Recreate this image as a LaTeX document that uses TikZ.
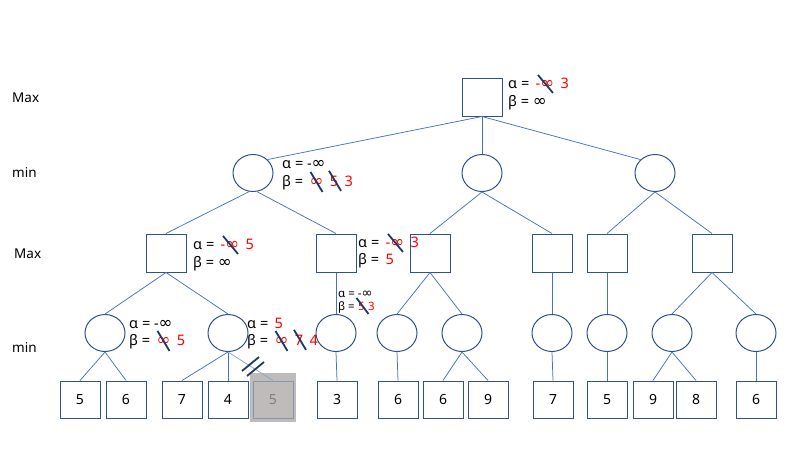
\documentclass[tikz,border=0pt]{standalone}
\usepackage{fontspec}
\setmainfont{Noto Sans}
\newfontfamily\dvf{DejaVu Sans}[Scale=1.15]
\usetikzlibrary{calc,shapes.geometric}
\definecolor{shapeblue}{HTML}{2F528F}
\definecolor{lineblue}{HTML}{4472C4}
\definecolor{strikec}{HTML}{1F3864}
\definecolor{greyfill}{HTML}{BFBBBB}
\definecolor{greyline}{HTML}{8497B0}
\definecolor{greytext}{HTML}{7F7F7F}
\definecolor{fadeline}{HTML}{8EA5D0}
\newcommand{\inft}{{\dvf ∞}}
\begin{document}
\begin{tikzpicture}[x=1pt,y=-1pt,
  sq/.style={draw=shapeblue, line width=1pt, minimum width=40pt, minimum height=38pt, inner sep=0pt},
  ci/.style={ellipse, draw=shapeblue, line width=1pt, minimum width=40pt, minimum height=37pt, inner sep=0pt},
  leaf/.style={draw=shapeblue, line width=1pt, minimum width=40pt, minimum height=37pt, inner sep=0pt, font=\fontsize{14}{16}\selectfont},
  conn/.style={draw=lineblue, line width=0.75pt},
  lbl/.style={inner sep=0pt, anchor=base west, font=\fontsize{14.5}{17}\selectfont},
  lsm/.style={inner sep=0pt, anchor=base west, font=\fontsize{11.5}{13}\selectfont},
  rd/.style={text=red},
  strike/.style={draw=strikec, line width=1.8pt},
  lev/.style={inner sep=0pt, anchor=west, font=\fontsize{13.5}{16}\selectfont}]
\useasboundingbox (0,0) rectangle (800,450);

% level labels
\node[lev] (L0) at (12,98) {Max};
\node[lev] (L1) at (12,173) {min};
\node[lev] (L2) at (14,254) {Max};
\node[lev] (L3) at (12,348) {min};

% nodes
\node[sq] (r) at (482,97) {};
\node[ci] (c1) at (253,173) {};
\node[ci] (c2) at (482,173) {};
\node[ci] (c3) at (655,173) {};
\node[sq] (s1) at (166,253) {};
\node[sq] (s2) at (336,253) {};
\node[sq] (s3) at (430,253) {};
\node[sq] (s4) at (552,253) {};
\node[sq] (s5) at (607,253) {};
\node[sq] (s6) at (712,253) {};
\node[ci] (d1) at (105,333) {};
\node[ci] (d2) at (228,333) {};
\node[ci] (d3) at (336,333) {};
\node[ci] (d4) at (397,333) {};
\node[ci] (d5) at (462,333) {};
\node[ci] (d6) at (552,333) {};
\node[ci] (d7) at (607,333) {};
\node[ci] (d8) at (672,333) {};
\node[ci] (d9) at (756,333) {};

% leaves
\node[leaf] (l1) at (80,399.5) {5};
\node[leaf] (l2) at (126,399.5) {6};
\node[leaf] (l3) at (182,399.5) {7};
\node[leaf] (l4) at (228,399.5) {4};
\node[fill=greyfill, minimum width=46pt, minimum height=49pt, inner sep=0pt] (gbox) at (273,397.5) {};
\node[leaf, draw=greyline, text=greytext] (l5) at (273,399.5) {5};
\node[leaf] (l6) at (337,399.5) {3};
\node[leaf] (l7) at (398,399.5) {6};
\node[leaf] (l8) at (443,399.5) {6};
\node[leaf] (l9) at (488,399.5) {9};
\node[leaf] (l10) at (553,399.5) {7};
\node[leaf] (l11) at (607,399.5) {5};
\node[leaf] (l12) at (653,399.5) {9};
\node[leaf] (l13) at (696,399.5) {8};
\node[leaf] (l14) at (756,399.5) {6};

% connectors
\draw[conn] (r.south) -- (c1.north east);
\draw[conn] (r.south) -- (c2.north);
\draw[conn] (r.south) -- (c3.north west);
\draw[conn] (c1.258) -- (s1.north);
\draw[conn] (c1.282) -- (s2.north);
\draw[conn] (c2.south) -- (s3.north);
\draw[conn] (c2.south) -- (s4.north);
\draw[conn] (c3.south) -- (s5.north);
\draw[conn] (c3.south) -- (s6.north);
\draw[conn] (s1.south) -- (d1.north);
\draw[conn] (s1.south) -- (d2.north);
\draw[conn] (s2.south) -- (d3.north);
\draw[conn] (s3.south) -- (d4.north);
\draw[conn] (s3.south) -- (d5.north);
\draw[conn] (s4.south) -- (d6.north);
\draw[conn] (s5.south) -- (d7.north);
\draw[conn] (s6.south) -- (d8.north);
\draw[conn] (s6.south) -- (d9.north);
\draw[conn] (d1.south) -- (l1.north);
\draw[conn] (d1.south) -- (l2.north);
\draw[conn] (d2.south) -- (l3.north);
\draw[conn] (d2.south) -- (l4.north);
\draw[conn, draw=fadeline] (d2.south) -- (l5.north);
\draw[conn] (d3.south) -- (l6.north);
\draw[conn] (d4.south) -- (l7.north);
\draw[conn] (d5.south) -- (l8.north);
\draw[conn] (d5.south) -- (l9.north);
\draw[conn] (d6.south) -- (l10.north);
\draw[conn] (d7.south) -- (l11.north);
\draw[conn] (d8.south) -- (l12.north);
\draw[conn] (d8.south) -- (l13.north);
\draw[conn] (d9.south) -- (l14.north);

% cut marker
\coordinate (k1a) at (242,371);
\coordinate (k1b) at (259,357);
\coordinate (k2a) at (247,376);
\coordinate (k2b) at (264,362);
\draw[strike] (k1a) -- (k1b);
\draw[strike] (k2a) -- (k2b);

% root labels
\node[lbl] (ra1) at (508,88) {α =};
\node[lbl,rd] (ra2) at ($(ra1.base east)+(6,0)$) {-\inft};
\node[lbl,rd] (ra3) at ($(ra2.base east)+(6,0)$) {3};
\draw[strike] ($(ra2.center)+(-7,-9)$) -- ($(ra2.center)+(8,9)$);
\node[lbl] (rb1) at (508,106) {β = \inft};

% c1 labels
\node[lbl] (ca1) at (282,168) {α = -\inft};
\node[lbl] (cb1) at (282,186) {β =};
\node[lbl,rd] (cb2) at ($(cb1.base east)+(6,0)$) {\inft};
\node[lbl,rd] (cb3) at ($(cb2.base east)+(6,0)$) {5};
\node[lbl,rd] (cb4) at ($(cb3.base east)+(6,0)$) {3};
\draw[strike] ($(cb2.center)+(-6,-10)$) -- ($(cb2.center)+(6,10)$);
\draw[strike] ($(cb3.center)+(-5,-10)$) -- ($(cb3.center)+(7,10)$);

% s1 labels
\node[lbl] (sa1) at (193,249) {α =};
\node[lbl,rd] (sa2) at ($(sa1.base east)+(6,0)$) {-\inft};
\node[lbl,rd] (sa3) at ($(sa2.base east)+(6,0)$) {5};
\draw[strike] ($(sa2.center)+(-7,-9)$) -- ($(sa2.center)+(8,9)$);
\node[lbl] (sb1) at (193,267) {β = \inft};

% s2 labels
\node[lbl] (ta1) at (358,247) {α =};
\node[lbl,rd] (ta2) at ($(ta1.base east)+(6,0)$) {-\inft};
\node[lbl,rd] (ta3) at ($(ta2.base east)+(6,0)$) {3};
\draw[strike] ($(ta2.center)+(-7,-9)$) -- ($(ta2.center)+(8,9)$);
\node[lbl] (tb1) at (358,264) {β =};
\node[lbl,rd] (tb2) at ($(tb1.base east)+(6,0)$) {5};

% d3 small labels
\node[lsm] (ua1) at (338,297) {α = -\inft};
\node[lsm] (ub1) at (338,310) {β =};
\node[lsm,rd] (ub2) at ($(ub1.base east)+(3,0)$) {5};
\node[lsm,rd] (ub3) at ($(ub2.base east)+(3,0)$) {3};
\draw[strike] ($(ub2.center)+(-5,-8)$) -- ($(ub2.center)+(7,8)$);

% d1 labels
\node[lbl] (va1) at (129,328) {α = -\inft};
\node[lbl] (vb1) at (129,345) {β =};
\node[lbl,rd] (vb2) at ($(vb1.base east)+(6,0)$) {\inft};
\node[lbl,rd] (vb3) at ($(vb2.base east)+(6,0)$) {5};
\draw[strike] ($(vb2.center)+(-6,-10)$) -- ($(vb2.center)+(6,10)$);

% d2 labels
\node[lbl] (wa1) at (247,328) {α =};
\node[lbl,rd] (wa2) at ($(wa1.base east)+(6,0)$) {5};
\node[lbl] (wb1) at (247,345) {β =};
\node[lbl,rd] (wb2) at ($(wb1.base east)+(6,0)$) {\inft};
\node[lbl,rd] (wb3) at ($(wb2.base east)+(6,0)$) {7};
\node[lbl,rd] (wb4) at ($(wb3.base east)+(6,0)$) {4};
\draw[strike] ($(wb2.center)+(-6,-10)$) -- ($(wb2.center)+(6,10)$);
\draw[strike] ($(wb3.center)+(-5,-10)$) -- ($(wb3.center)+(7,10)$);
\end{tikzpicture}
\end{document}
